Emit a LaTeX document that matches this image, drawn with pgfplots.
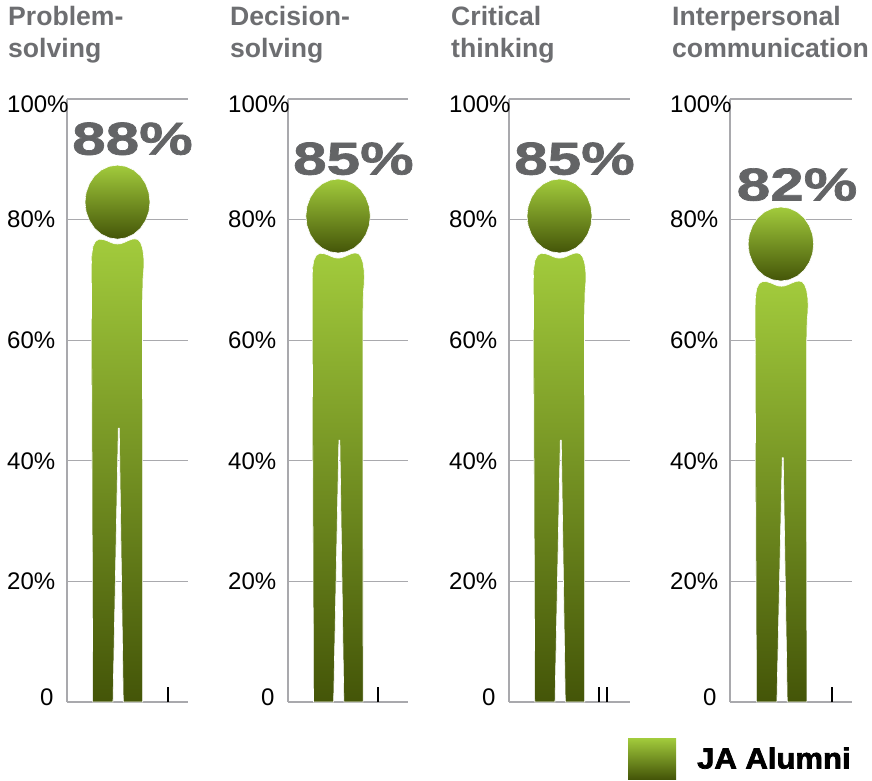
\documentclass[border=0pt]{standalone}
\usepackage{fontspec}
\usepackage{pgfplots}
\usepackage{pgfplotstable}
\pgfplotsset{compat=1.18}
\setmainfont{Liberation Sans}
\newfontfamily\heavy[FakeStretch=1.07,FakeBold=2.5]{Liberation Sans Bold}
\newfontfamily\valfont[FakeStretch=1.31,FakeBold=1.5]{Liberation Sans Bold}
\definecolor{grn}{HTML}{A2CB3C}
\definecolor{drk}{HTML}{445508}
\definecolor{gridc}{HTML}{A9A9AD}
\definecolor{ttl}{HTML}{6D6E71}
\definecolor{val}{HTML}{636466}

% one head: offsets from its centre, y in percent points
\pgfplotstableread{
x dy
83.0 0
81.9 1.59
78.6 3.07
73.5 4.34
66.75 5.32
58.9 5.93
50.5 6.14
42.1 5.93
34.25 5.32
27.5 4.34
22.4 3.07
19.1 1.59
18.0 0
19.1 -1.59
22.4 -3.07
27.5 -4.34
34.25 -5.32
42.1 -5.93
50.5 -6.14
58.9 -5.93
66.75 -5.32
73.5 -4.34
78.6 -3.07
81.9 -1.59
}\headtable

\pgfplotstableread{
x y
25.7 0
24.5 66.3
24.4 72.5
24.8 74.3
26.0 75.6
28.5 76.4
32.0 76.75
36.0 76.7
40.0 76.5
44.0 76.2
47.5 76.0
50.5 75.95
53.5 76.0
57.0 76.2
61.0 76.5
65.0 76.75
68.0 76.8
71.0 76.7
73.5 76.2
75.5 75.3
76.7 74.0
77.0 72.8
76.7 71.5
76.0 70.2
75.5 66.3
75.7 0
56.3 0
52.3 45.4
51.3 45.4
46.0 0
}\bodyA

\pgfplotstableread{
x y
25.7 0
24.5 63.96
24.4 70.16
24.8 71.96
26.0 73.26
28.5 74.06
32.0 74.41
36.0 74.36
40.0 74.16
44.0 73.86
47.5 73.66
50.5 73.61
53.5 73.66
57.0 73.86
61.0 74.16
65.0 74.41
68.0 74.46
71.0 74.36
73.5 73.86
75.5 72.96
76.7 71.66
77.0 70.46
76.7 69.16
76.0 67.86
75.5 63.96
75.7 0
56.3 0
52.3 43.4
51.3 43.4
46.0 0
}\bodyB

\pgfplotstableread{
x y
26.2 0
25.0 59.3
24.9 65.5
25.3 67.3
26.5 68.6
29.0 69.4
32.5 69.75
36.5 69.7
40.5 69.5
44.5 69.2
48.0 69.0
51.0 68.95
54.0 69.0
57.5 69.2
61.5 69.5
65.5 69.75
68.5 69.8
71.5 69.7
74.0 69.2
76.0 68.3
77.2 67.0
77.5 65.8
77.2 64.5
76.5 63.2
76.0 59.3
76.2 0
56.8 0
52.8 40.5
51.8 40.5
46.5 0
}\bodyC

\pgfplotsset{
  panel/.style={
    scale only axis,
    width=#1,
    height=603pt,
    anchor=south west,
    xmin=0, xmax=121,
    ymin=0, ymax=100,
    clip=false,
    axis x line=bottom,
    axis y line=left,
    axis line style={-,gridc,line width=1.2pt},
    xtick=\empty,
    ytick={0,20,40,60,80,100},
    yticklabels={\hspace{33pt}\raisebox{5pt}[\height][\depth]{0},20\%,40\%,60\%,80\%,\raisebox{-5pt}[\height][\depth]{100\%}},
    yticklabel style={anchor=west,xshift=-60pt,inner sep=0pt,font=\fontsize{24}{28}\selectfont,text=black},
    major tick length=0pt,
    ymajorgrids,
    grid style={gridc,line width=1.2pt},
    title style={at={(0,1)},anchor=base west,align=left,inner sep=0pt,xshift=-58pt,yshift=35pt,
      font=\fontsize{26.6}{32}\selectfont\bfseries,text=ttl},
  },
  person/.style={draw=white,line width=0.6pt,top color=grn,bottom color=drk,mark=none},
  stray/.style={ycomb,black,line width=2pt,mark=none},
}
\newcommand{\vallabel}[2]{\node[text=val,font=\valfont\fontsize{46}{50}\selectfont] at (axis cs:#1) {#2};}

\begin{document}
\begin{tikzpicture}[x=1pt,y=1pt]
\path[use as bounding box] (0,0) rectangle (872,780);

\begin{axis}[panel=121pt,at={(67pt,78pt)},title={Problem-\\solving},title style={xshift=-1pt}]
\addplot[person] table[x=x,y=y] {\bodyA} --cycle;
\addplot[person] table[x=x,y expr=\thisrow{dy}+82.9] {\headtable} --cycle;
\addplot[stray] coordinates {(101,2.5)};
\vallabel{65.5,93.4}{88\%}
\end{axis}

\begin{axis}[panel=120pt,at={(288pt,78pt)},title={Decision-\\solving}]
\addplot[person] table[x=x,y=y] {\bodyB} --cycle;
\addplot[person] table[x=x,y expr=\thisrow{dy}+80.6] {\headtable} --cycle;
\addplot[stray] coordinates {(91,2.5)};
\vallabel{66,90.1}{85\%}
\end{axis}

\begin{axis}[panel=121pt,at={(509pt,78pt)},title={Critical\\thinking}]
\addplot[person] table[x=x,y=y] {\bodyB} --cycle;
\addplot[person] table[x=x,y expr=\thisrow{dy}+80.6] {\headtable} --cycle;
\addplot[stray] coordinates {(90,2.5) (98,2.5)};
\vallabel{65.5,90.1}{85\%}
\end{axis}

\begin{axis}[panel=122pt,at={(730pt,78pt)},title={Interpersonal\\communication},
  legend style={at={(-0.836,-0.0597)},anchor=north west,draw=none,fill=none,inner sep=0pt,
    nodes={inner sep=0pt,anchor=west},font=\heavy\fontsize{29}{32}\selectfont,text=black},
  legend image code/.code={\node[inner sep=0pt,minimum width=48pt,minimum height=41pt,
    top color=grn,bottom color=drk] at (24pt,0pt) {};},
]
\addplot[person] table[x=x,y=y] {\bodyC} --cycle;
\addplot[person] table[x=x,y expr=\thisrow{dy}+75.95] {\headtable} --cycle;
\addplot[stray] coordinates {(101,2.5)};
\vallabel{66.5,85.8}{82\%}
\addlegendimage{}
\addlegendentry{\hspace{21pt}JA Alumni}
\end{axis}
\end{tikzpicture}
\end{document}
